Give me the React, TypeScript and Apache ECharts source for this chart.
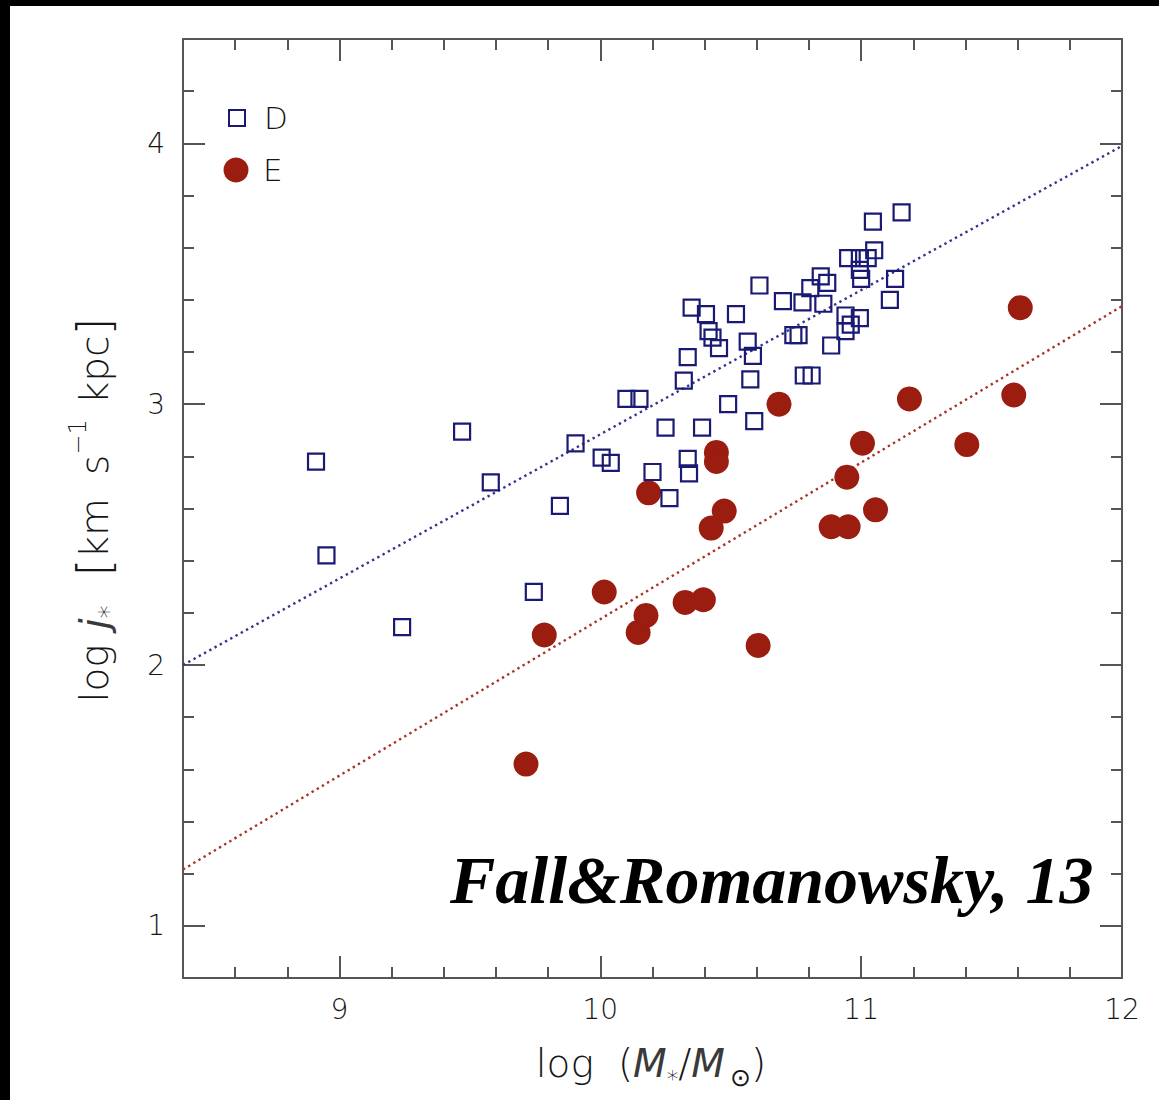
import React, { useEffect, useRef } from "react";
import * as echarts from "echarts";

// Axis ranges and labelled ticks
const xRange: [number, number] = [8.4, 12];
const yRange: [number, number] = [0.8, 4.4];
const xMajorTicks = [9, 10, 11, 12];
const yMajorTicks = [1, 2, 3, 4];
const minorStep = 0.2;

// Disc galaxies: [log M*, log j*]
const diskPoints: [number, number][] = [
  [8.91, 2.78], [8.95, 2.42], [9.24, 2.145], [9.47, 2.895], [9.58, 2.7],
  [9.745, 2.28], [9.845, 2.61], [9.905, 2.85], [10.005, 2.795], [10.04, 2.775],
  [10.1, 3.02], [10.15, 3.02], [10.2, 2.74], [10.25, 2.91], [10.265, 2.64],
  [10.32, 3.09], [10.335, 3.18], [10.335, 2.79], [10.34, 2.735], [10.35, 3.37],
  [10.39, 2.91], [10.405, 3.345], [10.415, 3.28], [10.43, 3.255], [10.455, 3.215],
  [10.49, 3.0], [10.52, 3.345], [10.565, 3.24], [10.585, 3.185], [10.575, 3.095],
  [10.59, 2.935], [10.61, 3.455], [10.7, 3.395], [10.74, 3.265], [10.76, 3.265],
  [10.775, 3.39], [10.78, 3.11], [10.81, 3.11], [10.805, 3.445], [10.845, 3.49],
  [10.87, 3.465], [10.855, 3.385], [10.885, 3.225], [10.94, 3.34], [10.995, 3.33],
  [10.96, 3.305], [10.94, 3.28], [10.95, 3.56], [10.995, 3.56], [11.025, 3.56],
  [10.995, 3.515], [11.0, 3.48], [11.045, 3.7], [11.05, 3.59], [11.11, 3.4],
  [11.13, 3.48], [11.155, 3.735],
];

// Elliptical galaxies: [log M*, log j*]
const ellipticalPoints: [number, number][] = [
  [9.715, 1.62], [9.785, 2.115], [10.015, 2.28], [10.145, 2.125], [10.175, 2.19],
  [10.185, 2.66], [10.325, 2.24], [10.395, 2.25], [10.425, 2.525], [10.445, 2.815],
  [10.445, 2.78], [10.475, 2.59], [10.605, 2.075], [10.685, 3.0], [10.885, 2.53],
  [10.95, 2.53], [10.945, 2.72], [11.005, 2.85], [11.055, 2.595], [11.185, 3.02],
  [11.405, 2.845], [11.585, 3.035], [11.61, 3.37],
];

// Fitted relations (end points)
const diskFit: [number, number][] = [[8.4, 2.0], [12, 3.99]];
const ellipticalFit: [number, number][] = [[8.4, 1.216], [12, 3.376]];

const seriesNames = ["D", "E"];
const annotation = "Fall&Romanowsky, 13";

const SANS = '"DejaVu Sans", "Liberation Sans", sans-serif';
const INK = "#161616";
const ITALIC_INK = "#3a3a3a";
const FRAME = { color: "#555", width: 2 };
const NAVY = "#1a1a74";
const RUST = "#9a1d10";

function minorAxis(position: string, range: [number, number]) {
  return {
    type: "value",
    position,
    min: range[0],
    max: range[1],
    interval: minorStep,
    axisLine: { show: true, onZero: false, lineStyle: FRAME },
    axisTick: { show: true, inside: true, length: 11, lineStyle: FRAME },
    axisLabel: { show: false },
    splitLine: { show: false },
  };
}

function majorAxis(position: string, range: [number, number], ticks: number[], labels: boolean, margin: number) {
  return {
    type: "value",
    position,
    min: range[0],
    max: range[1],
    axisLine: { show: false, onZero: false },
    axisTick: { show: true, inside: true, length: 22, customValues: ticks, lineStyle: FRAME },
    axisLabel: {
      show: labels,
      customValues: ticks,
      margin,
      fontSize: 28,
      fontFamily: SANS,
      fontWeight: 300,
      color: INK,
    },
    splitLine: { show: false },
  };
}

function tok(size: number, extra: Record<string, unknown> = {}) {
  return { fontSize: size, fontFamily: SANS, fontWeight: 300, fill: INK, ...extra };
}

export default function App() {
  const ref = useRef<HTMLDivElement>(null);

  useEffect(() => {
    if (!ref.current) return;
    const chart = echarts.init(ref.current, undefined, { renderer: "svg" });

    const option = {
      animation: false,
      backgroundColor: "#fff",
      grid: { left: 183, right: 37, top: 39, bottom: 122, containLabel: false },
      xAxis: [
        minorAxis("bottom", xRange),
        majorAxis("bottom", xRange, xMajorTicks, true, 17),
        minorAxis("top", xRange),
        majorAxis("top", xRange, xMajorTicks, false, 8),
      ],
      yAxis: [
        minorAxis("left", yRange),
        majorAxis("left", yRange, yMajorTicks, true, 18),
        minorAxis("right", yRange),
        majorAxis("right", yRange, yMajorTicks, false, 8),
      ],
      legend: [
        {
          data: [seriesNames[0]],
          orient: "vertical",
          left: 228,
          top: 102.5,
          padding: 0,
          itemWidth: 16,
          itemHeight: 16,
          selectedMode: false,
          textStyle: { fontSize: 31, fontFamily: SANS, fontWeight: 300, color: INK, padding: [0, 0, 0, 14] },
        },
        {
          data: [seriesNames[1]],
          orient: "vertical",
          left: 223.5,
          top: 154.5,
          padding: 0,
          itemWidth: 25,
          itemHeight: 25,
          selectedMode: false,
          textStyle: { fontSize: 31, fontFamily: SANS, fontWeight: 300, color: INK, padding: [0, 0, 0, 9.5] },
        },
      ],
      series: [
        {
          name: "D fit",
          type: "line",
          data: diskFit,
          showSymbol: false,
          silent: true,
          z: 1,
          lineStyle: { color: "#34348f", width: 2.4, type: [2.4, 3.6] },
        },
        {
          name: "E fit",
          type: "line",
          data: ellipticalFit,
          showSymbol: false,
          silent: true,
          z: 1,
          lineStyle: { color: "#a83428", width: 2.4, type: [2.4, 3.6] },
        },
        {
          name: seriesNames[0],
          type: "scatter",
          data: diskPoints,
          symbol: "rect",
          symbolSize: 16,
          z: 3,
          itemStyle: { color: "rgba(0,0,0,0)", borderColor: NAVY, borderWidth: 2.2, opacity: 1 },
        },
        {
          name: seriesNames[1],
          type: "scatter",
          data: ellipticalPoints,
          symbol: "circle",
          symbolSize: 25,
          z: 2,
          itemStyle: { color: RUST, opacity: 1 },
        },
      ],
      graphic: [
        { type: "rect", shape: { x: 0, y: 0, width: 1159, height: 6 }, style: { fill: "#000" }, silent: true },
        { type: "rect", shape: { x: 0, y: 0, width: 10, height: 1100 }, style: { fill: "#000" }, silent: true },
        {
          type: "text",
          x: 450,
          y: 880,
          silent: true,
          style: {
            text: annotation,
            fontSize: 68,
            fontFamily: '"Liberation Serif", serif',
            fontStyle: "italic",
            fontWeight: "bold",
            fill: "#000",
            align: "left",
            verticalAlign: "middle",
          },
        },
        {
          type: "text",
          x: 651,
          y: 1063,
          silent: true,
          style: {
            text: "{b|log}{g24| }{b|(}{i|M}{st|*}{b|/}{i|M}{g5| }{sun|⊙}{b|)}",
            align: "center",
            verticalAlign: "middle",
            rich: {
              b: tok(39, { lineHeight: 54 }),
              i: tok(39, { lineHeight: 54, fontStyle: "italic", fill: ITALIC_INK }),
              st: tok(23, { lineHeight: 28, verticalAlign: "bottom" }),
              sun: tok(25, { lineHeight: 30, verticalAlign: "bottom" }),
              g24: tok(39, { lineHeight: 54, width: 24 }),
              g5: tok(39, { lineHeight: 54, width: 5 }),
            },
          },
        },
        {
          type: "text",
          x: 94,
          y: 510,
          rotation: Math.PI / 2,
          silent: true,
          style: {
            text: "{b|log}{g15| }{i|j}{st|*}{g29| }{br|[}{b|km}{g23| }{b|s}{sup|−1}{g15| }{b|kpc}{br|]}",
            align: "center",
            verticalAlign: "middle",
            rich: {
              b: tok(39, { lineHeight: 56 }),
              i: tok(39, { lineHeight: 56, fontStyle: "italic", fill: ITALIC_INK }),
              st: tok(26, { lineHeight: 10, verticalAlign: "bottom" }),
              sup: tok(24, { lineHeight: 40, verticalAlign: "top" }),
              br: tok(46, { lineHeight: 56 }),
              g15: tok(39, { lineHeight: 56, width: 15 }),
              g23: tok(39, { lineHeight: 56, width: 23 }),
              g29: tok(39, { lineHeight: 56, width: 29 }),
            },
          },
        },
      ],
    };

    chart.setOption(option as any);
    return () => chart.dispose();
  }, []);

  return (
    <div
      ref={ref}
      style={{ position: "fixed", left: 0, top: 0, width: 1159, height: 1100 }}
    />
  );
}
